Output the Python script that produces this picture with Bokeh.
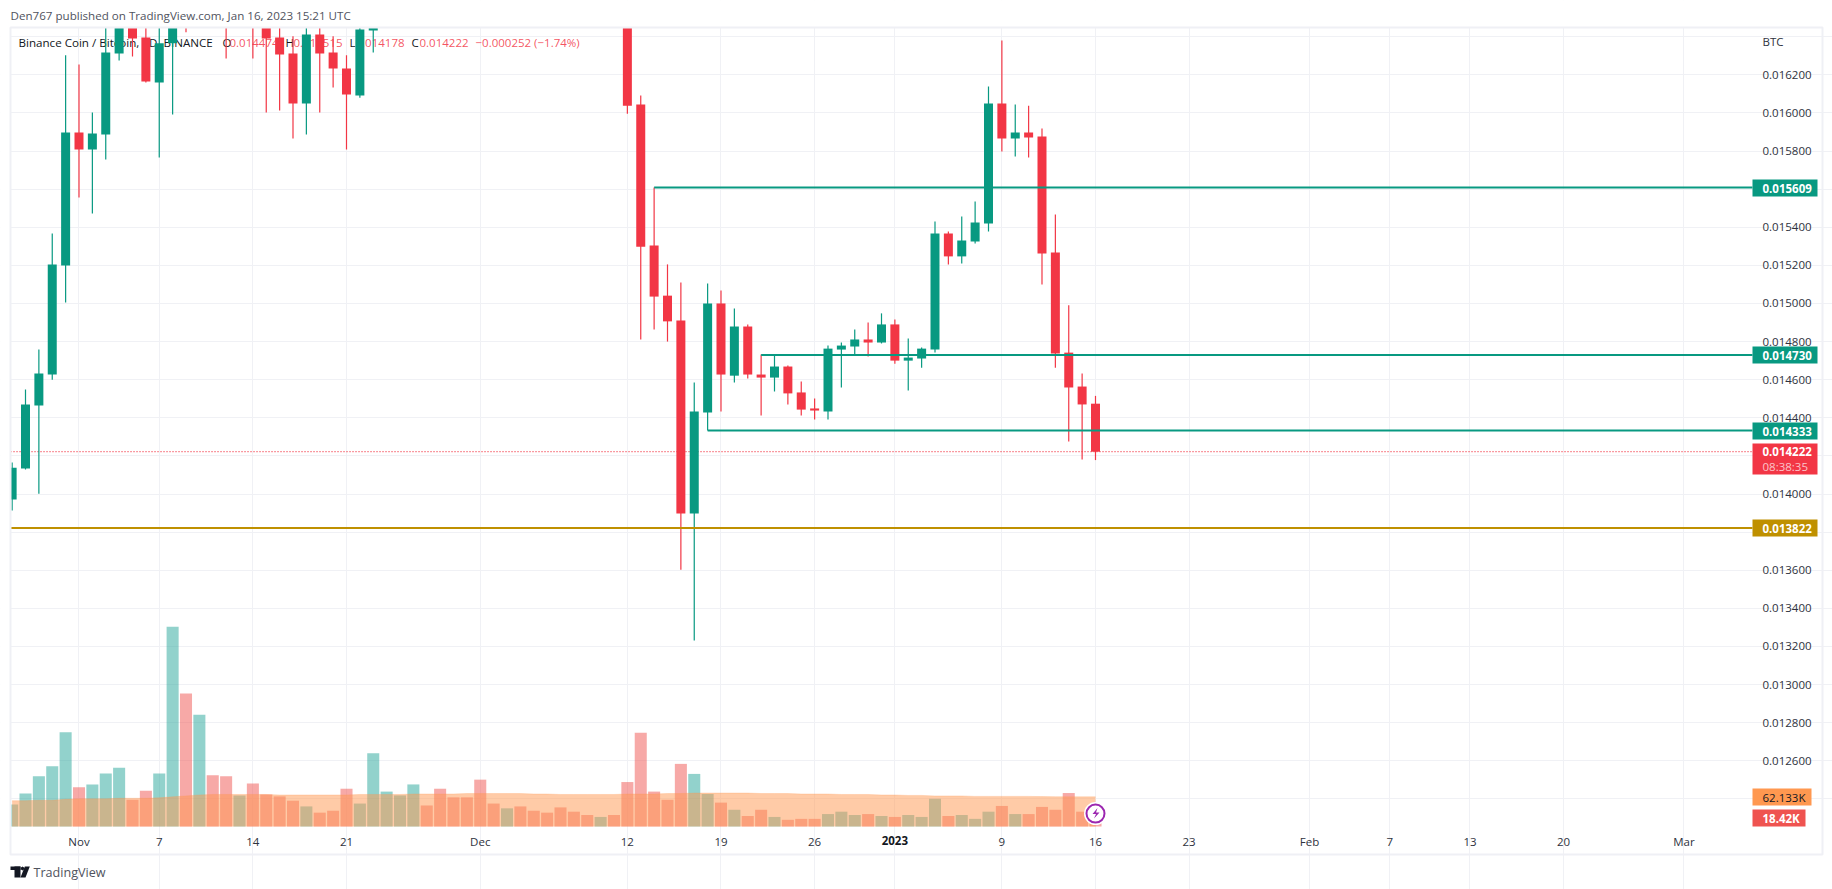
from bokeh.plotting import figure
from bokeh.models import (Range1d, FixedTicker, Label, BoxAnnotation, PolyAnnotation,
                          ColumnDataSource, NumeralTickFormatter)
from bokeh.embed import file_html
from bokeh.resources import INLINE

FONT = "Open Sans"
GREEN, RED, GOLD = "#089981", "#F23645", "#BF9000"

# day offset from 16 Jan 2023 (one candle per day, 27 Oct 2022 .. 16 Jan 2023)
days = list(range(-81, 1))

opens = [13971,14134,14465,14627,15199,15897,15808,15887,16312,16480,16396,16159,16365,16540,16480,16550,16520,16490,16540,16480,16396,16312,16049,16412,16317,16233,16091,16433,
         16490,16500,16510,16550,16540,16530,16520,16510,16500,16480,16540,16520,16490,16540,16530,16520,16490,16540,
         16510,16044,15304,15041,14911,13898,14428,15000,14621,14879,14627,14611,14669,14533,14449,14433,14758,14774,14811,14795,14890,14700,14711,14758,15367,15247,15325,15419,16049,15866,15897,15876,15268,14742,14564,14474]
highs = [14166,14549,14758,15367,16302,16254,16002,16486,16530,16520,16500,16520,16560,16560,16560,16560,16550,16560,16550,16560,16480,16402,16500,16480,16402,16302,16470,16540,
         16560,16560,16560,16560,16555,16550,16540,16530,16530,16560,16560,16550,16540,16560,16550,16540,16560,16560,
         16550,16091,15609,15205,15110,14585,15105,15068,14974,14890,14732,14727,14674,14590,14501,14779,14795,14863,14900,14948,14916,14816,14769,15430,15377,15456,15535,16138,16380,16044,16038,15918,15467,14990,14632,14515]
lows = [13913,14129,14002,14600,15005,15556,15472,15755,16275,16296,16159,15766,15992,16423,16470,16480,16286,16460,16286,16002,16012,15866,15887,16002,16133,15808,16080,16317,
        16455,16470,16490,16490,16480,16470,16460,16460,16460,16460,16470,16465,16455,16480,16480,16470,16470,16480,
        15996,14811,14863,14800,13603,13231,14333,14433,14585,14606,14412,14538,14470,14412,14391,14391,14559,14732,14721,14790,14684,14543,14663,14742,15205,15210,15315,15377,15797,15771,15766,15099,14663,14275,14181,14178]
closes = [14138,14470,14632,15205,15897,15808,15892,16317,16490,16391,16165,16365,16540,16475,16550,16520,16490,16540,16480,16391,16307,16049,16412,16312,16233,16096,16438,16490,
          16530,16540,16550,16520,16510,16500,16490,16480,16470,16540,16510,16490,16470,16510,16500,16490,16540,16510,
          16038,15298,15036,14906,13898,14433,15000,14627,14879,14627,14611,14669,14528,14443,14438,14763,14779,14811,14795,14890,14700,14716,14763,15367,15247,15330,15425,16049,15866,15897,15871,15262,14737,14559,14470,14222]

# volume, thousands of BNB
volumes = [46,69,105,126,197,82,88,111,123,56,75,111,418,278,234,107,105,65,90,67,63,54,42,29,33,79,48,153,73,65,88,44,79,61,61,98,48,38,42,33,29,40,
           31,24,20,24,93,196,73,56,131,110,68,50,35,22,35,20,14,16,16,26,31,24,26,22,20,24,20,58,22,24,16,31,43,26,26,41,35,70,31,18.42]
# moving average of the volume, thousands
vol_ma = [54,54,55,55,57,58,58,58,59,59,59,60,62,64,66,67,67,67,67,67,66,66,66,66,66,66,67,67,67,67,68,68,68,68,69,69,69,69,69,68,68,67,
          67,67,67,67,68,68,68,69,69,70,70,70,70,70,69,69,69,68,68,68,67,67,67,66,66,65,65,64,64,64,63,63,63,63,63,62.5,62.3,62.2,62.1,62.133]

# horizontal levels: price (millionths of BTC), first day
level_prices = [15609, 14730, 14333]
level_starts = [-33, -25, -29]
support_price = 13822
last_price = 14222

y_tick_values = [12600,12800,13000,13200,13400,13600,13800,14000,14200,14400,14600,14800,15000,15200,15400,15600,15800,16000,16200]
grid_values = [12400] + y_tick_values + [16400]
x_tick_days = [-76,-70,-63,-56,-46,-35,-28,-21,-15,-7,0,7,16,22,28,35,44]
x_tick_labels = ["Nov","7","14","21","Dec","12","19","26"," ","9","16","23","Feb","7","13","20","Mar"]

# visible pane of the chart, in axis units
PANE_X = (-81.12, 49.12)
PANE_Y = (0.012255, 0.016448)

M = 1e-6
colors = [GREEN if c >= o else RED for o, c in zip(opens, closes)]
vcolors = ["#26A69A" if c >= o else "#EF5350" for o, c in zip(opens, closes)]
src = ColumnDataSource(dict(
    x=days, top=[max(o, c)*M for o, c in zip(opens, closes)], bottom=[min(o, c)*M for o, c in zip(opens, closes)],
    hi=[v*M for v in highs], lo=[v*M for v in lows], color=colors, vcolor=vcolors, vol=volumes))

# the frame fills the page so that price tags and page texts are not clipped
p = figure(width=1832, height=889, output_backend="svg", toolbar_location=None,
           x_range=Range1d(-81.869, 55.103), y_range=Range1d(0.0119245, 0.0165899),
           y_axis_location="right", min_border_left=0, min_border_right=0,
           min_border_top=0, min_border_bottom=0, background_fill_color="white",
           border_fill_color="white", outline_line_color=None)
p.extra_y_ranges = {"vol": Range1d(-131.8, 1728.0)}

# axes
for ax in (p.xaxis[0], p.yaxis[0]):
    ax.axis_line_color = None
    ax.major_tick_line_color = None
    ax.minor_tick_line_color = None
    ax.major_tick_in = ax.major_tick_out = 0
    ax.minor_tick_in = ax.minor_tick_out = 0
    ax.major_label_text_font = FONT
    ax.major_label_text_font_size = "11.5px"
    ax.major_label_text_color = "#2E323D"
p.yaxis[0].ticker = FixedTicker(ticks=[v*M for v in y_tick_values])
p.yaxis[0].formatter = NumeralTickFormatter(format="0.000000")
p.yaxis[0].major_label_standoff = -70
p.xaxis[0].ticker = FixedTicker(ticks=x_tick_days)
p.xaxis[0].major_label_overrides = dict(zip(x_tick_days, x_tick_labels))
p.xaxis[0].major_label_standoff = -56

p.xgrid[0].ticker = FixedTicker(ticks=x_tick_days)
p.ygrid[0].ticker = FixedTicker(ticks=[v*M for v in grid_values])
p.xgrid[0].grid_line_color = "#F0F1F5"
p.ygrid[0].grid_line_color = "#F0F1F5"
p.xgrid[0].bounds = PANE_Y
p.ygrid[0].bounds = PANE_X

def lab(x, y, text, color="#131722", size="11.5px", style="normal", level="annotation", xu="canvas", yu="canvas", baseline="middle", align="left", alpha=1.0):
    l = Label(x=x, y=y, x_units=xu, y_units=yu, text=text, text_color=color, text_font=FONT,
              text_font_size=size, text_font_style=style, text_baseline=baseline, text_align=align,
              text_alpha=alpha, level=level)
    p.add_layout(l)
    return l

lab(18, 42, "Binance Coin / Bitcoin, 1D, BINANCE", "#131722", size="11.6px", level="underlay")
for x, t, c in [(222, "O", "#131722"), (229, "0.014474", RED), (285, "H", "#131722"), (293, "0.014515", RED),
                (349, "L", "#131722"), (355, "0.014178", RED), (411, "C", "#131722"), (419, "0.014222", RED),
                (475, "\u22120.000252 (\u22121.74%)", RED)]:
    lab(x, 42, t, c, level="underlay", alpha=0.85 if c == RED else 1.0)

# last price dotted line
p.line([PANE_X[0], PANE_X[1]], [last_price*M]*2, line_color=RED, line_width=1.2, line_dash="1 2")

# candles
p.segment("x", "hi", "x", "lo", source=src, line_color="color", line_width=1.2)
p.vbar("x", width=0.673, top="top", bottom="bottom", source=src, fill_color="color", line_color=None)

# volume
p.vbar("x", width=0.9, top="vol", bottom=0, source=src, fill_color="vcolor", fill_alpha=0.5, line_color=None, y_range_name="vol")
p.varea(days, y1=[0]*len(days), y2=vol_ma, fill_color="#FF9850", fill_alpha=0.5, y_range_name="vol")
p.line(days, vol_ma, line_color="#FF9850", line_alpha=0.25, line_width=1, y_range_name="vol")

# levels
for price, start in zip(level_prices, level_starts):
    p.segment([start], [price*M], [PANE_X[1]], [price*M], line_color=GREEN, line_width=2)
p.segment([PANE_X[0]], [support_price*M], [PANE_X[1]], [support_price*M], line_color=GOLD, line_width=2)

def box(left, right, top, bottom, fill=None, line=None, lw=1):
    b = BoxAnnotation(left=left, right=right, top=top, bottom=bottom, left_units="canvas", right_units="canvas",
                      top_units="canvas", bottom_units="canvas", fill_color=fill or "white", fill_alpha=1 if fill else 0,
                      line_color=line, line_width=lw, line_alpha=1)
    p.add_layout(b)

# page margins hiding whatever leaves the chart pane
box(-40, 1880, -40, 27, "white")
box(-40, 10, -40, 930, "white")
box(10, 1822, 27, 854, None, "#EFF0F5", 2)

# header and BTC unit
lab(10, 15, "Den767 published on TradingView.com, Jan 16, 2023 15:21 UTC", "#50535E", size="11.6px")
lab(1762, 41, "BTC", "#2E323D")

# price tags
for top, txt, col in [(179, "0.015609", GREEN), (346, "0.014730", GREEN), (422, "0.014333", GREEN), (519, "0.013822", GOLD)]:
    box(1752, 1817, top, top+17, col)
    lab(1762, top+8.5, txt, "white", style="bold")
box(1752, 1817, 443, 474, RED)
lab(1762, 451, "0.014222", "white", style="bold")
lab(1762, 466, "08:38:35", "#FBC4C9")
box(1752, 1811, 788, 805, "#FF9850")
lab(1762, 796.5, "62.133K", "#131722")
box(1752, 1805, 809, 826, "#EF5350")
lab(1762, 817.5, "18.42K", "white", style="bold")

# date label for the year, darker than the others
lab(-15, 840, "2023", "#131722", style="bold", xu="data", align="center")

# real-time marker
p.scatter([0], [27], size=23, fill_color="white", line_color=None, y_range_name="vol")
p.scatter([0], [27], size=18, fill_color="white", line_color="#9C27B0", line_width=2, y_range_name="vol")
p.add_layout(PolyAnnotation(xs=[1097, 1092, 1095.5, 1093.5, 1099, 1095.5], ys=[807.5, 813.5, 813.5, 818, 812, 812], xs_units="canvas", ys_units="canvas",
                            fill_color="#9C27B0", fill_alpha=1, line_color=None))

# TradingView logo
box(10, 20, 866, 869.5, "#131722")
box(14, 20, 866, 877, "#131722")
p.add_layout(PolyAnnotation(xs=[24.3, 29.3, 25, 20], ys=[866, 866, 877, 877], xs_units="canvas", ys_units="canvas",
                            fill_color="#131722", fill_alpha=1, line_color=None))
p.add_layout(PolyAnnotation(xs=[20.5, 22, 23.5, 23.5, 22, 20.5], ys=[867, 866, 867, 869, 870, 869], xs_units="canvas", ys_units="canvas",
                            fill_color="#131722", fill_alpha=1, line_color=None))
lab(33, 872, "TradingView", "#50535E", size="12.6px")

open("out.html", "w").write(file_html(p, INLINE))
